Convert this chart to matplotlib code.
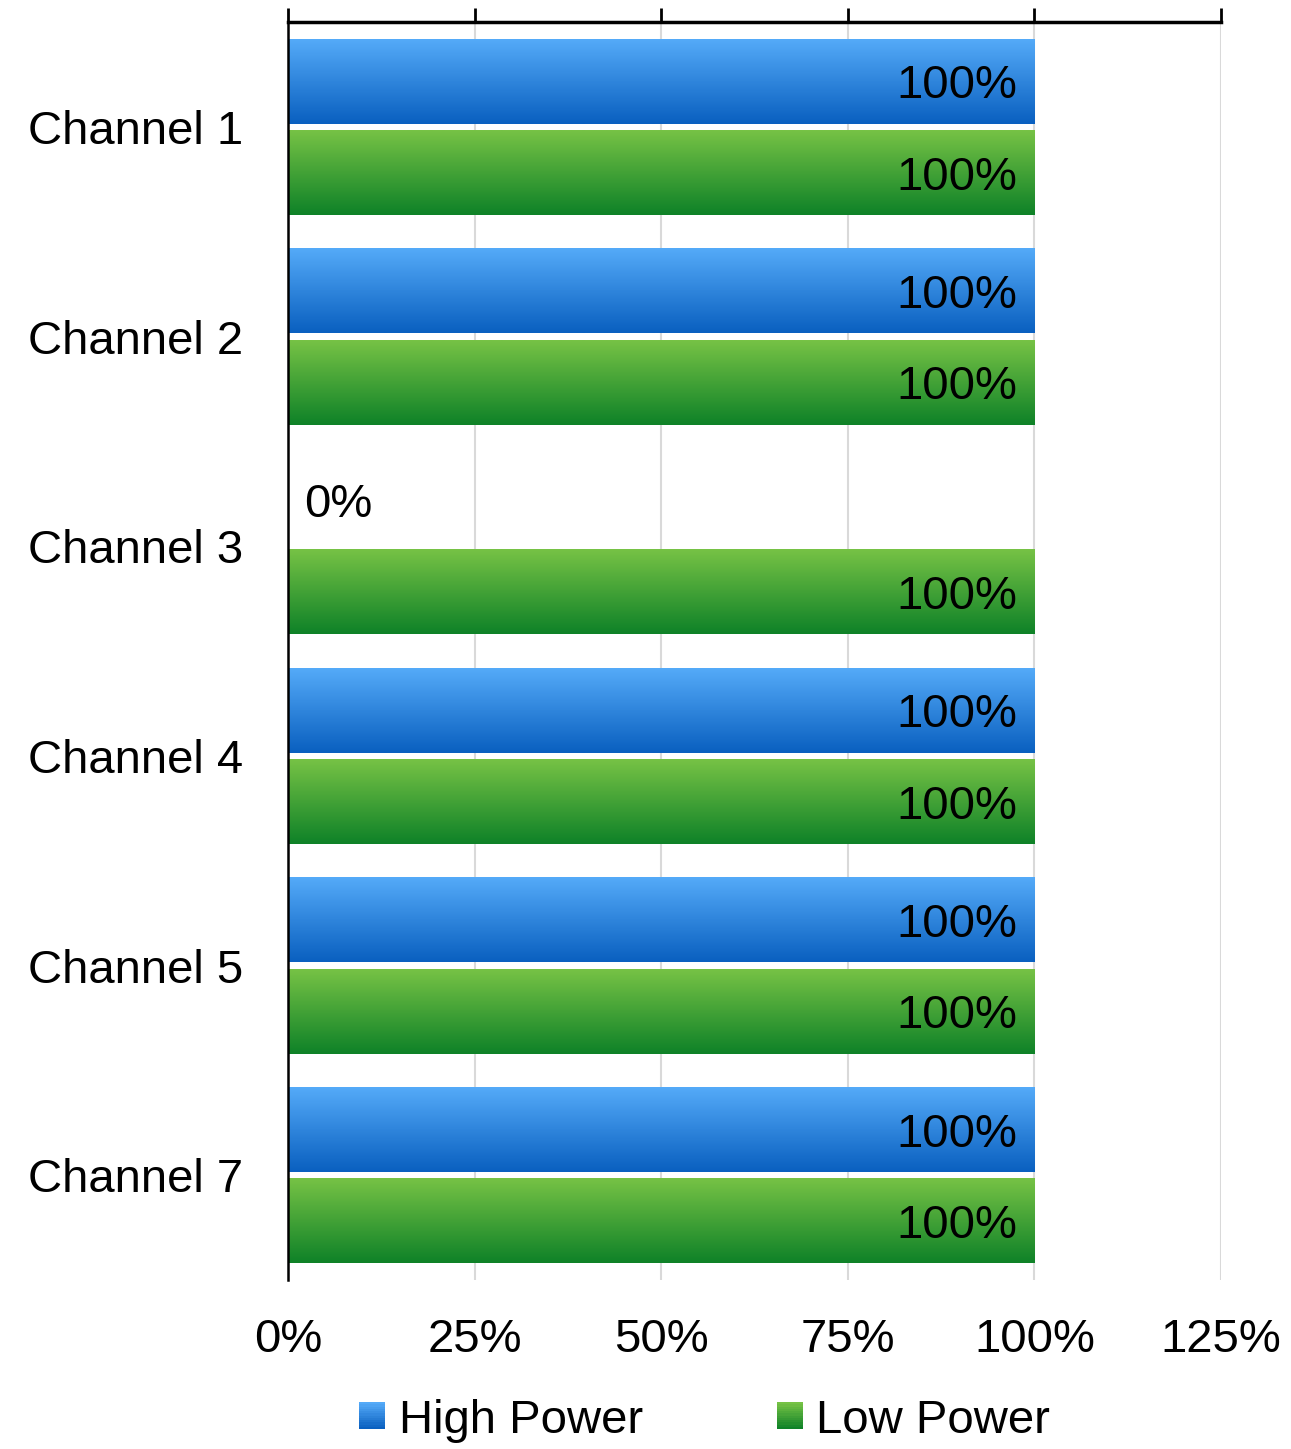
import matplotlib.pyplot as plt
import numpy as np
import matplotlib.patches as mpatches
from matplotlib.colors import LinearSegmentedColormap
from matplotlib.legend_handler import HandlerBase

plt.rcParams['font.family'] = ['Liberation Sans', 'DejaVu Sans']

channels = ['Channel 1', 'Channel 2', 'Channel 3', 'Channel 4', 'Channel 5', 'Channel 7']
high_power = [100, 100, 0, 100, 100, 100]
low_power = [100, 100, 100, 100, 100, 100]
x_ticks = [0, 25, 50, 75, 100, 125]

blue_cm = LinearSegmentedColormap.from_list('blue', ['#54aaf8', '#0a60c0'])
green_cm = LinearSegmentedColormap.from_list('green', ['#76c245', '#0f8228'])
FS = 34

fig = plt.figure(figsize=(12.91, 14.49), dpi=100)
ax = fig.add_axes([0.2231, 0.1166, 0.7227, 0.8682])

y = np.arange(len(channels))
h = 0.405
off = 0.218
grad = np.linspace(0, 1, 64).reshape(-1, 1)


def gradient_bars(vals, pos, cmap):
    bars = ax.barh(pos, vals, height=h, color='none', edgecolor='none', zorder=2)
    for b in bars:
        x0, y0 = b.get_x(), b.get_y()
        w, hh = b.get_width(), b.get_height()
        if w <= 0:
            continue
        # y axis is inverted, so origin='upper' puts row 0 at the top of the bar
        ax.imshow(grad, cmap=cmap, aspect='auto', origin='upper',
                  extent=(x0, x0 + w, y0 + hh, y0), zorder=2,
                  interpolation='bilinear')
    return bars


gradient_bars(high_power, y - off, blue_cm)
gradient_bars(low_power, y + off, green_cm)

for i, (hp, lp) in enumerate(zip(high_power, low_power)):
    for v, yy in ((hp, y[i] - off), (lp, y[i] + off)):
        if v > 0:
            ax.text(v - 2.3, yy, f'{v}%', ha='right', va='center_baseline',
                    fontsize=FS, zorder=3)
        else:
            ax.text(v + 2.2, yy, f'{v}%', ha='left', va='center_baseline',
                    fontsize=FS, zorder=3)

ax.set_xlim(0, 125)
ax.set_ylim(len(channels) - 0.5, -0.5)
ax.set_yticks(y)
ax.set_yticklabels(channels, fontsize=FS)
ax.set_xticks(x_ticks)
ax.set_xticklabels([f'{t}%' for t in x_ticks], fontsize=FS)

ax.xaxis.grid(True, color='#d9d9d9', linewidth=1.5, zorder=0)
ax.set_axisbelow(True)
ax.tick_params(axis='x', top=True, bottom=False, labeltop=False, labelbottom=True,
               direction='out', length=10, width=2, pad=17)
ax.tick_params(axis='y', length=0, pad=32)

for s in ('right', 'bottom'):
    ax.spines[s].set_visible(False)
ax.spines['top'].set_linewidth(2.5)
ax.spines['left'].set_linewidth(1.8)


class GradientHandler(HandlerBase):
    def __init__(self, cmap):
        super().__init__()
        self.cmap = cmap

    def create_artists(self, legend, orig_handle, xdescent, ydescent,
                       width, height, fontsize, trans):
        n = 12
        strips = []
        for k in range(n):
            yk = -ydescent + height * (n - 1 - k) / n
            strips.append(mpatches.Rectangle((-xdescent, yk), width, height / n + 0.3,
                                             facecolor=self.cmap(k / (n - 1)),
                                             edgecolor='none', transform=trans))
        return strips


leg_h = mpatches.Patch(label='High Power')
leg_l = mpatches.Patch(label='Low Power')
fig.legend(handles=[leg_h, leg_l], loc='center', bbox_to_anchor=(0.546, 0.0195),
           ncol=2, frameon=False, fontsize=FS, handlelength=0.55, handleheight=0.5,
           handletextpad=0.28, columnspacing=2.85,
           handler_map={leg_h: GradientHandler(blue_cm), leg_l: GradientHandler(green_cm)})

fig.savefig('out.png', dpi=100)
